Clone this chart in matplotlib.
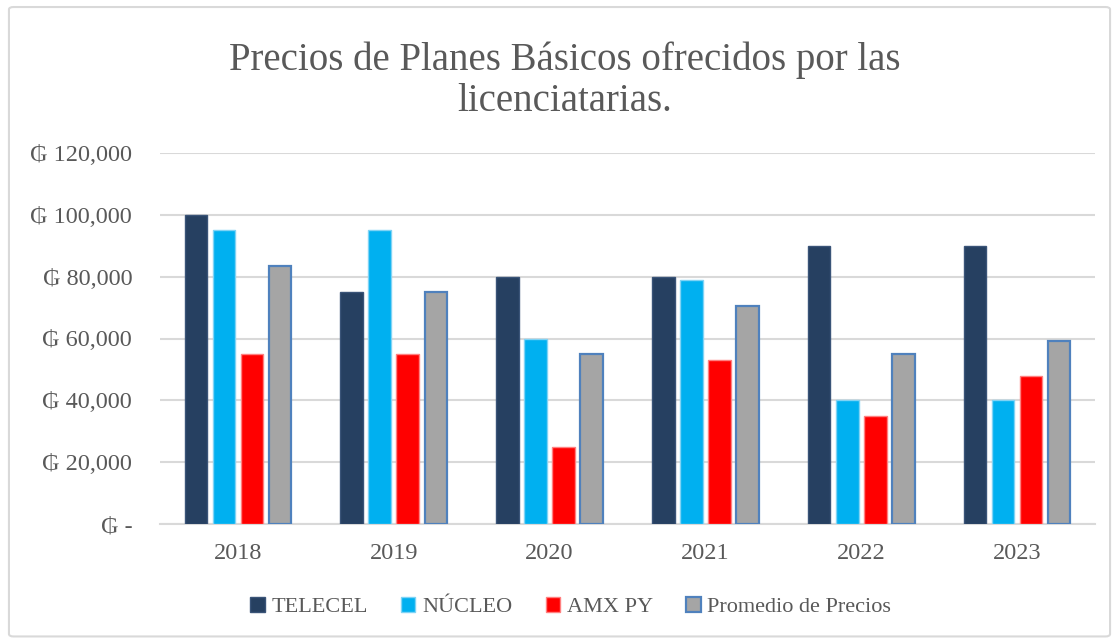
import numpy as np
import matplotlib
matplotlib.use("Agg")
import matplotlib.pyplot as plt
from matplotlib.patches import FancyBboxPatch
from matplotlib.ticker import FuncFormatter

plt.rcParams['font.family'] = ['Liberation Serif', 'DejaVu Serif', 'DejaVu Sans']

years = ["2018", "2019", "2020", "2021", "2022", "2023"]
telecel = [100000, 75000, 80000, 80000, 90000, 90000]
nucleo = [95000, 95000, 60000, 79000, 40000, 40000]
amx = [55000, 55000, 25000, 53000, 35000, 48000]
promedio = [83333, 75000, 55000, 70667, 55000, 59333]

series = [
    ("TELECEL", telecel, "#264061", "#3a5478"),
    ("NÚCLEO", nucleo, "#00B0F0", "#7fd3f5"),
    ("AMX PY", amx, "#FF0000", "#ff8080"),
    ("Promedio de Precios", promedio, "#A5A5A5", "#4F81BD"),
]

text_col = "#595959"

fig = plt.figure(figsize=(11.19, 6.39), dpi=100)
fig.patches.append(FancyBboxPatch((0.008, 0.004), 0.984, 0.985, boxstyle="round,pad=0,rounding_size=0.004",
                                  transform=fig.transFigure, fill=False, edgecolor="#D9D9D9", linewidth=1.5))

ax = fig.add_axes([160 / 1119, 1 - 524 / 639, 935 / 1119, 371 / 639])

x = np.arange(len(years))
step = 0.18
width = 0.145
for i, (name, vals, color, edge) in enumerate(series):
    lw = 1.6 if name.startswith("Promedio") else 1.0
    ax.bar(x + (i - 1.5) * step, vals, width, color=color, edgecolor=edge, linewidth=lw,
           label=name, zorder=3)

ax.set_xlim(-0.5, len(years) - 0.5)
ax.set_ylim(0, 120000)
ax.set_yticks(np.arange(0, 120001, 20000))
ax.yaxis.set_major_formatter(FuncFormatter(lambda v, p: "₲ -" if v == 0 else f"₲ {v:,.0f}"))
ax.set_xticks(x)
ax.set_xticklabels(years)
ax.tick_params(axis="both", length=0, labelsize=17.5, colors=text_col)
ax.tick_params(axis="y", pad=20)
ax.tick_params(axis="x", pad=14)
ax.grid(axis="y", color="#D9D9D9", linewidth=1.5, zorder=0)
for s in ["top", "right", "left"]:
    ax.spines[s].set_visible(False)
ax.spines["bottom"].set_color("#D9D9D9")
ax.spines["bottom"].set_linewidth(1.5)

fig.text(0.505, 0.812, "Precios de Planes Básicos ofrecidos por las\nlicenciatarias.",
         ha="center", va="bottom", fontsize=28, color=text_col, linespacing=1.15)

leg = fig.legend(loc="center", bbox_to_anchor=(0.51, 0.05), ncol=4, frameon=False,
                 fontsize=16, handlelength=0.65, handleheight=0.65, handletextpad=0.3,
                 columnspacing=1.5)
for t in leg.get_texts():
    t.set_color(text_col)

fig.savefig("out.png", dpi=100)
